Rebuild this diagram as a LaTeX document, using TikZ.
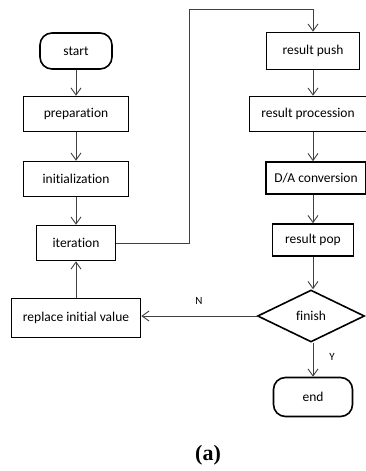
\documentclass[tikz,border=0pt]{standalone}
\usepackage{fontspec}
\setmainfont{Carlito}[Ligatures=CommonOff]
\newfontfamily\capfont{Liberation Serif}
\usetikzlibrary{shapes.geometric,arrows.meta}

\tikzset{
  stepbox/.style={draw=black, line width=1.6pt, minimum height=35pt, inner sep=0pt, font=\fontsize{13.5}{15}\selectfont},
  termbox/.style={stepbox, rounded corners=12pt},
  testbox/.style={draw=black, line width=1.6pt, diamond, aspect=2.05, minimum width=107pt, minimum height=52pt, inner sep=0pt, font=\fontsize{13.5}{15}\selectfont},
  flow/.style={draw=black!75, line width=0.9pt, -{Straight Barb[length=7pt,width=10pt,line width=0.9pt]}},
  tag/.style={font=\fontsize{11}{13}\selectfont}
}

\begin{document}
\begin{tikzpicture}[x=1pt,y=-1pt]
\useasboundingbox (0,0) rectangle (366,471);

% left column
\node[termbox, minimum width=72pt, minimum height=36pt] (start) at (76,51) {start};
\node[stepbox, minimum width=105pt] (prep) at (76,114) {preparation};
\node[stepbox, minimum width=105pt] (init) at (76,179) {initialization};
\node[stepbox, minimum width=79pt] (iter) at (76,243) {iteration};
\node[stepbox, minimum width=129pt, minimum height=39pt] (repl) at (76,318) {replace initial value};

% right column
\node[stepbox, minimum width=93pt, minimum height=37pt] (push) at (313,51) {result push};
\node[stepbox, minimum width=117pt] (proc) at (308,114) {result procession};
\node[stepbox, minimum width=100pt, minimum height=32pt] (conv) at (316,178) {D/A conversion};
\node[stepbox, minimum width=81pt, minimum height=32pt] (pop) at (313,240) {result pop};
\node[testbox] (fin) at (311,316) {finish};
\node[termbox, minimum width=79pt, minimum height=39pt] (end) at (313,397) {end};

% loop corner
\coordinate (top) at (189,9);

\draw[flow] (start) -- (prep);
\draw[flow] (prep) -- (init);
\draw[flow] (init) -- (iter);
\draw[flow] (iter.east) -| (top) -| (push.north);
\draw[flow] (push) -- (push |- proc.north);
\draw[flow] (push |- proc.south) -- (push |- conv.north);
\draw[flow] (push |- conv.south) -- (pop);
\draw[flow] (pop) -- (pop |- fin.north);
\draw[flow] (fin.west) -- (repl.east |- fin.west);
\draw[flow] (repl) -- (iter);
\draw[flow] (pop |- fin.south) -- (end);

\node[tag] (no) at (199,301) {N};
\node[tag] (yes) at (332,357) {Y};

\node[font=\capfont\bfseries\fontsize{22}{24}\selectfont] (cap) at (208,455) {(a)};

\end{tikzpicture}
\end{document}
